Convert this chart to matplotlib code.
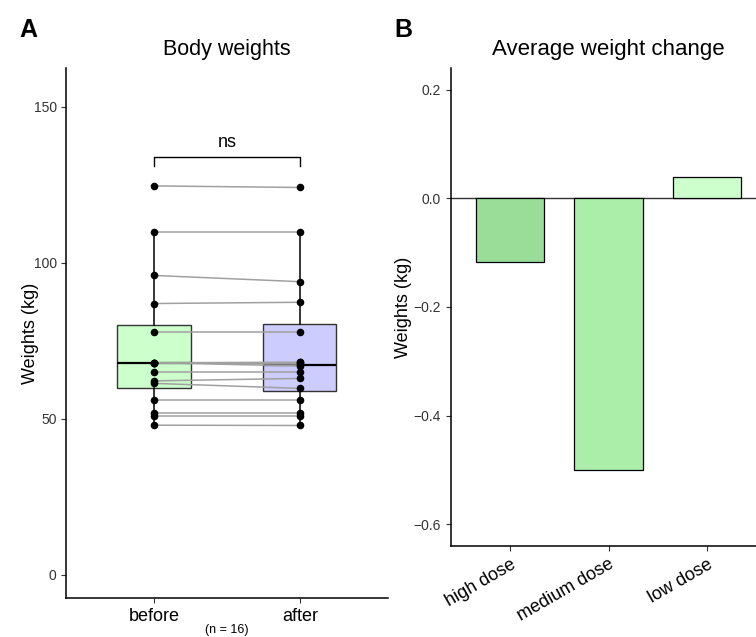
import numpy as np
import matplotlib.pyplot as plt

plt.rcParams['font.family'] = ['Liberation Sans', 'DejaVu Sans']

# panel A data: paired body weights (kg)
groups = ['before', 'after']
before = [124.7, 110, 96, 87, 78, 68, 68, 68, 68, 65.2, 62.2, 61.4, 56.1, 52, 51.1, 48]
after = [124.2, 110, 94, 87.4, 78, 68.1, 67.0, 68.1, 67.6, 65.2, 63.0, 59.8, 56.1, 52, 51.1, 47.9]
box_colors = ['#CCFFCC', '#CCCCFF']

# panel B data: average weight change
doses = ['high dose', 'medium dose', 'low dose']
change = [-0.117, -0.5, 0.04]
bar_colors = ['#99DD99', '#AAEEAA', '#CCFFCC']

fig = plt.figure(figsize=(7.56, 6.37), dpi=100)
ax1 = fig.add_axes([66.4/756, 1-598/637, 321.2/756, 530/637])
ax2 = fig.add_axes([450.9/756, 1-546/637, 315.2/756, 478/637])

def style(ax):
    for s in ['top', 'right']:
        ax.spines[s].set_visible(False)
    for s in ['left', 'bottom']:
        ax.spines[s].set_color('black')
        ax.spines[s].set_linewidth(1.1)
    ax.tick_params(direction='out', length=3.5, color='#333333', labelcolor='#333333', labelsize=10)

# --- A: boxplot with paired lines
pos = [1, 2]
bp = ax1.boxplot([before, after], positions=pos, widths=0.5, patch_artist=True,
                 showfliers=False, showcaps=False, whis=1.5, zorder=1,
                 medianprops=dict(color='black', linewidth=1.6),
                 whiskerprops=dict(color='black', linewidth=1.1),
                 boxprops=dict(edgecolor='#333333', linewidth=1.0))
for patch, c in zip(bp['boxes'], box_colors):
    patch.set_facecolor(c)

for b, a in zip(before, after):
    ax1.plot(pos, [b, a], color='#A0A0A0', lw=1.1, zorder=3)
ax1.scatter(np.full(len(before), 1), before, s=20, color='black', zorder=4)
ax1.scatter(np.full(len(after), 2), after, s=20, color='black', zorder=4)

# significance bracket
ax1.plot([1, 1, 2, 2], [131, 134.1, 134.1, 131], color='black', lw=1)
ax1.text(1.5, 138.5, 'ns', ha='center', va='center', fontsize=13)

ax1.set_xlim(0.4, 2.6)
ax1.set_ylim(-7.4, 162.5)
ax1.set_yticks([0, 50, 100, 150])
ax1.set_xticks(pos)
ax1.set_xticklabels(groups)
style(ax1)
ax1.tick_params(axis='x', labelsize=13, labelcolor='black')
ax1.set_ylabel('Weights (kg)', fontsize=13, labelpad=-4)
ax1.set_title('Body weights', fontsize=15.5, pad=9)
fig.text(227/756, 1-630/637, '(n = 16)', ha='center', va='center', fontsize=9)

# --- B: bar chart
x = np.arange(1, len(doses)+1)
ax2.bar(x, change, width=0.7, color=bar_colors, edgecolor='black', linewidth=0.9, zorder=2)
ax2.axhline(0, color='#333333', lw=1.0, zorder=1)
ax2.set_xlim(0.4, 3.6)
ax2.set_ylim(-0.64, 0.24)
ax2.set_yticks([0.2, 0.0, -0.2, -0.4, -0.6])
ax2.set_yticklabels(['0.2', '0.0', '\u22120.2', '\u22120.4', '\u22120.6'])
ax2.set_xticks(x)
ax2.set_xticklabels(doses, rotation=30, ha='right', rotation_mode='anchor')
style(ax2)
ax2.tick_params(axis='x', labelsize=13, labelcolor='black')
ax2.set_ylabel('Weights (kg)', fontsize=13, labelpad=1)
ax2.set_title('Average weight change', fontsize=16, pad=9)

fig.text(28/756, 1-30/637, 'A', fontsize=18, fontweight='bold', ha='center', va='center')
fig.text(403/756, 1-30/637, 'B', fontsize=18, fontweight='bold', ha='center', va='center')

fig.savefig('out.png', dpi=100)
